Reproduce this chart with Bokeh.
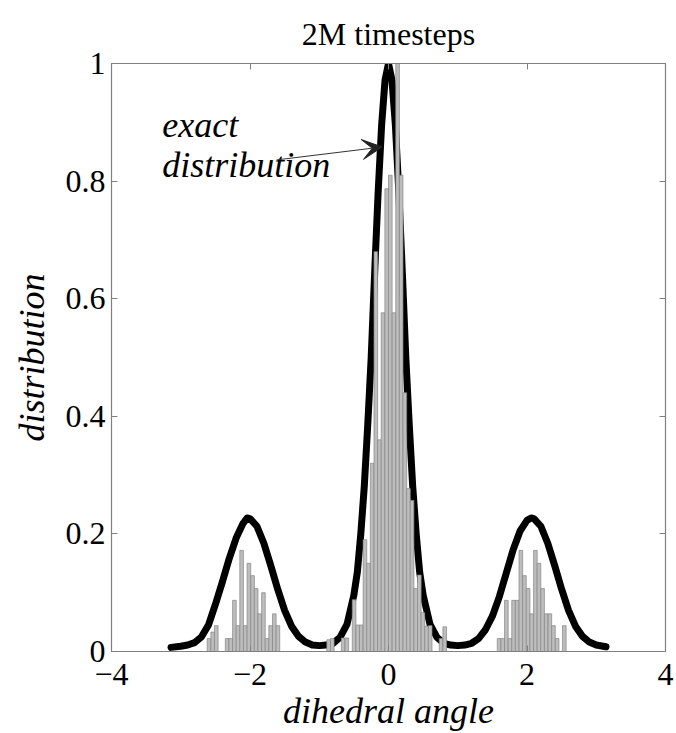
from bokeh.plotting import figure
from bokeh.models import Label, Arrow, VeeHead, LinearAxis, FixedTicker, Range1d
from bokeh.embed import file_html
from bokeh.resources import INLINE

# ---- data ----
x_ticks = [-4, -2, 0, 2, 4]
x_tick_labels = {-4: "\u22124", -2: "\u22122", 0: "0", 2: "2", 4: "4"}
y_ticks = [0, 0.2, 0.4, 0.6, 0.8, 1]
y_tick_labels = {0: "0", 0.2: "0.2", 0.4: "0.4", 0.6: "0.6", 0.8: "0.8", 1: "1"}

# exact distribution (black curve)
curve_x = [-3.14, -3.0, -2.9, -2.8, -2.7, -2.6, -2.5, -2.4, -2.3, -2.2, -2.1, -2.04,
           -2.0, -1.9, -1.8, -1.7, -1.6, -1.5, -1.4, -1.3, -1.2, -1.1, -1.0, -0.9,
           -0.8, -0.7, -0.6, -0.5, -0.45, -0.4, -0.35, -0.3, -0.25, -0.2, -0.15, -0.1,
           -0.05, 0.0, 0.05, 0.1, 0.15, 0.2, 0.25, 0.3, 0.35, 0.4, 0.45, 0.5,
           0.6, 0.7, 0.8, 0.9, 1.0, 1.1, 1.2, 1.3, 1.4, 1.5, 1.6, 1.7,
           1.8, 1.9, 2.0, 2.06, 2.1, 2.2, 2.3, 2.4, 2.5, 2.6, 2.7, 2.8,
           2.9, 3.0, 3.14]
curve_y = [0.007, 0.009, 0.011, 0.015, 0.025, 0.045, 0.080, 0.118, 0.158, 0.193, 0.218, 0.227,
           0.226, 0.213, 0.184, 0.146, 0.106, 0.070, 0.043, 0.026, 0.016, 0.011, 0.010, 0.011,
           0.014, 0.024, 0.046, 0.096, 0.135, 0.200, 0.280, 0.385, 0.500, 0.644, 0.780, 0.894,
           0.972, 1.000, 0.972, 0.894, 0.780, 0.644, 0.500, 0.385, 0.280, 0.200, 0.135, 0.096,
           0.046, 0.024, 0.014, 0.011, 0.010, 0.011, 0.014, 0.022, 0.037, 0.060, 0.093, 0.133,
           0.173, 0.205, 0.223, 0.227, 0.226, 0.213, 0.184, 0.146, 0.106, 0.070, 0.043, 0.026,
           0.016, 0.011, 0.008]

# histogram (grey bars)
bin_width = 0.0524
bar_centers = [-2.592, -2.539, -2.487, -2.330, -2.278, -2.225, -2.173, -2.121, -2.068, -2.016,
               -1.963, -1.911, -1.859, -1.806, -1.754, -1.702, -1.649, -1.597,
               -0.864, -0.812, -0.655, -0.602, -0.497, -0.445, -0.393, -0.340, -0.288, -0.236,
               -0.183, -0.131, -0.079, -0.026, 0.026, 0.079, 0.131, 0.183, 0.236, 0.288,
               0.340, 0.393, 0.445, 0.497, 0.550, 0.602, 0.759, 0.812,
               1.597, 1.649, 1.702, 1.754, 1.806, 1.859, 1.911, 1.963, 2.016, 2.068,
               2.121, 2.173, 2.225, 2.278, 2.330, 2.382, 2.435, 2.539]
bar_heights = [0.022, 0.033, 0.044, 0.022, 0.022, 0.087, 0.044, 0.172, 0.044, 0.150,
               0.129, 0.107, 0.064, 0.100, 0.022, 0.044, 0.064, 0.044,
               0.020, 0.022, 0.023, 0.023, 0.088, 0.045, 0.045, 0.190, 0.150, 0.320,
               0.680, 0.360, 0.576, 0.787, 0.810, 0.576, 1.050, 0.810, 0.440, 0.277,
               0.257, 0.107, 0.130, 0.066, 0.043, 0.044, 0.022, 0.042,
               0.022, 0.022, 0.087, 0.022, 0.087, 0.087, 0.172, 0.129, 0.107, 0.064,
               0.172, 0.150, 0.107, 0.064, 0.064, 0.044, 0.022, 0.044]

title_text = "2M timesteps"
x_label = "dihedral angle"
y_label = "distribution"
note_lines = ["exact", "distribution"]

SERIF = "Liberation Serif"
FRAME = "#808080"

p = figure(width=676, height=733, x_range=Range1d(-4, 4), y_range=Range1d(0, 1),
           output_backend="svg", toolbar_location=None, title=None,
           min_border_left=111, min_border_right=11, min_border_top=63, min_border_bottom=82)
p.background_fill_color = "white"
p.border_fill_color = "white"
p.outline_line_color = FRAME
p.outline_line_width = 1.2
p.xgrid.visible = False
p.ygrid.visible = False


def style_axis(ax, ticks, overrides, show_labels):
    ax.ticker = FixedTicker(ticks=ticks)
    ax.axis_line_color = FRAME
    ax.major_tick_line_color = FRAME
    ax.major_tick_in = 6
    ax.major_tick_out = 0
    ax.minor_tick_line_color = None
    if show_labels:
        ax.major_label_overrides = overrides
        ax.major_label_text_font = SERIF
        ax.major_label_text_color = "black"
        ax.major_label_text_font_size = "32px"
    else:
        ax.major_label_text_color = None
        ax.major_label_text_font_size = "0px"
        ax.major_label_standoff = 0


style_axis(p.xaxis[0], x_ticks, x_tick_labels, True)
p.xaxis[0].major_label_standoff = 12
p.xaxis[0].axis_label = x_label
p.xaxis[0].axis_label_text_font = SERIF
p.xaxis[0].axis_label_text_font_size = "36px"
p.xaxis[0].axis_label_text_font_style = "italic"
p.xaxis[0].axis_label_text_color = "black"
p.xaxis[0].axis_label_standoff = 3

style_axis(p.yaxis[0], y_ticks, y_tick_labels, True)
p.yaxis[0].major_label_standoff = 6
p.yaxis[0].axis_label = y_label
p.yaxis[0].axis_label_text_font = SERIF
p.yaxis[0].axis_label_text_font_size = "36px"
p.yaxis[0].axis_label_text_font_style = "italic"
p.yaxis[0].axis_label_text_color = "black"
p.yaxis[0].axis_label_standoff = 11

# top axis: ticks only, carries the title as its label
top_ax = LinearAxis()
style_axis(top_ax, x_ticks, x_tick_labels, False)
top_ax.axis_label = title_text
top_ax.axis_label_text_font = SERIF
top_ax.axis_label_text_font_size = "32px"
top_ax.axis_label_text_font_style = "normal"
top_ax.axis_label_text_color = "black"
top_ax.axis_label_standoff = 12
p.add_layout(top_ax, "above")

right_ax = LinearAxis()
style_axis(right_ax, y_ticks, y_tick_labels, False)
p.add_layout(right_ax, "right")

# curve and histogram
p.line(curve_x, curve_y, line_width=7, line_color="black", line_join="round", line_cap="round")
p.vbar(x=bar_centers, top=bar_heights, bottom=0, width=bin_width,
       fill_color="#bdbdbd", line_color="#858585", line_width=0.7)

# annotation
p.add_layout(Label(x=-3.268, y=0.895, text=note_lines[0], text_font=SERIF, text_font_size="36px",
                   text_font_style="italic", text_align="left", text_baseline="alphabetic",
                   text_color="black"))
p.add_layout(Label(x=-3.268, y=0.828, text=note_lines[1], text_font=SERIF, text_font_size="36px",
                   text_font_style="italic", text_align="left", text_baseline="alphabetic",
                   text_color="black"))
p.add_layout(Arrow(end=VeeHead(size=20, fill_color="#222222", line_color="#222222", line_width=1),
                   x_start=-1.617, y_start=0.836, x_end=-0.091, y_end=0.858,
                   line_width=1, line_color="#333333"))

open("out.html", "w").write(file_html(p, INLINE))
